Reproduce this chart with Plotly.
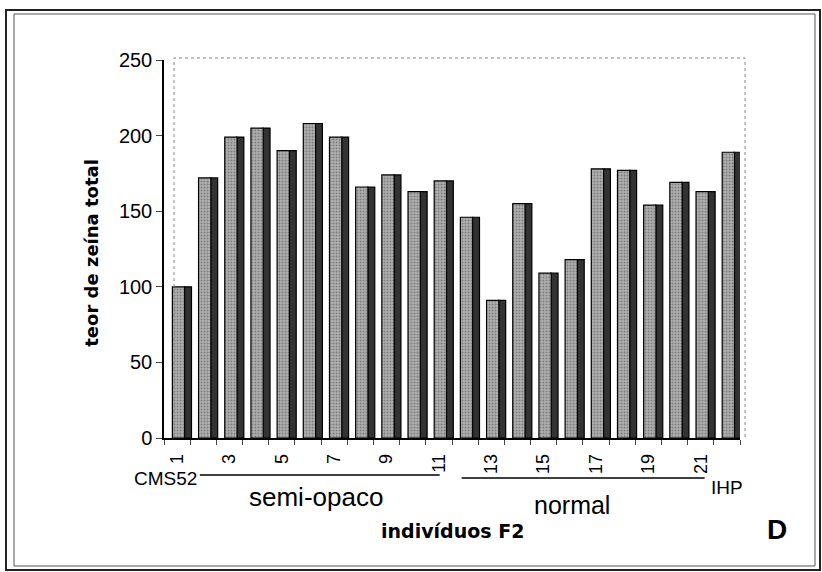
import plotly.graph_objects as go

individuos = list(range(1, 23))
teor_zeina = [100, 172, 199, 205, 190, 208, 199, 166, 174, 163, 170,
              146, 91, 155, 109, 118, 178, 177, 154, 169, 163, 189]
tick_vals = [1, 3, 5, 7, 9, 11, 13, 15, 17, 19, 21]
tick_text = [str(v) for v in tick_vals]
boundaries = [i + 0.5 for i in range(0, 23)]

FONT = "Liberation Sans, Arial, sans-serif"
BOLD = "DejaVu Sans, Verdana, sans-serif"

fig = go.Figure()
# dark side face of the pseudo-3D bars
fig.add_trace(go.Bar(
    x=individuos, y=teor_zeina, offset=0.28, width=0.27,
    marker=dict(color="#333333", line=dict(color="black", width=1.2)),
    hoverinfo="skip", showlegend=False))
# light speckled front face
fig.add_trace(go.Bar(
    x=individuos, y=teor_zeina, offset=-0.18, width=0.47,
    marker=dict(color="#b0b0b0", line=dict(color="black", width=1.2),
                pattern=dict(shape=".", fgcolor="#4a4a4a", size=3, solidity=0.35)),
    showlegend=False))

fig.update_layout(
    width=822, height=572,
    margin=dict(l=164, r=82, t=60, b=134),
    paper_bgcolor="white", plot_bgcolor="white",
    barmode="overlay",
    font=dict(family=FONT, color="black"),
    xaxis=dict(range=[0.5, 22.5], tickvals=tick_vals, ticktext=tick_text,
               tickangle=-90, ticks="", showgrid=False, zeroline=False,
               showline=True, linecolor="black", linewidth=1.5,
               tickfont=dict(family=FONT, size=18), ticklabelstandoff=7,
               minor=dict(tickvals=boundaries, ticks="outside", ticklen=5,
                          tickcolor="#444", showgrid=False)),
    yaxis=dict(range=[0, 250], dtick=50, ticks="outside", ticklen=6,
               showgrid=False, zeroline=False, showline=True,
               linecolor="black", linewidth=1.5,
               tickfont=dict(family=FONT, size=20)),
)

shapes = [
    # double frame around the figure
    dict(type="rect", xref="paper", yref="paper", x0=-0.2743, x1=1.1389,
         y0=-0.3492, y1=1.1323, line=dict(color="#222", width=2)),
    dict(type="rect", xref="paper", yref="paper", x0=-0.2604, x1=1.1302,
         y0=-0.3386, y1=1.1217, line=dict(color="#555", width=1)),
    # dotted back wall of plot area
    dict(type="path", xref="paper", yref="paper",
         path="M 0.0174 0.0026 L 0.0174 1.0053 L 1.0087 1.0053 L 1.0087 0.0026",
         line=dict(color="#888", width=1, dash="dot")),
    # group lines
    dict(type="line", xref="x", yref="paper", x0=1.87, x1=11.03,
         y0=-0.098, y1=-0.098, line=dict(color="black", width=1.5)),
    dict(type="line", xref="x", yref="paper", x0=11.87, x1=21.15,
         y0=-0.106, y1=-0.106, line=dict(color="black", width=1.5)),
]
fig.update_layout(shapes=shapes)

ann = [
    dict(text="CMS52", x=0.002, y=-0.108, size=19, fam=FONT),
    dict(text="IHP", x=0.977, y=-0.130, size=19, fam=FONT),
    dict(text="semi-opaco", x=0.264, y=-0.156, size=26, fam=FONT),
    dict(text="normal", x=0.708, y=-0.177, size=25, fam=FONT),
    dict(text="<b>indivíduos F2</b>", x=0.5, y=-0.246, size=19, fam=BOLD),
    dict(text="<b>D</b>", x=1.064, y=-0.243, size=28, fam=FONT),
]
for a in ann:
    fig.add_annotation(text=a["text"], x=a["x"], y=a["y"], xref="paper", yref="paper",
                       showarrow=False, xanchor="center", yanchor="middle",
                       font=dict(family=a["fam"], size=a["size"], color="black"))
fig.add_annotation(text="<b>teor de zeína total</b>", x=-0.125, y=0.49,
                   xref="paper", yref="paper", showarrow=False, textangle=-90,
                   xanchor="center", yanchor="middle",
                   font=dict(family=BOLD, size=18, color="black"))

fig.write_html("out.html")
